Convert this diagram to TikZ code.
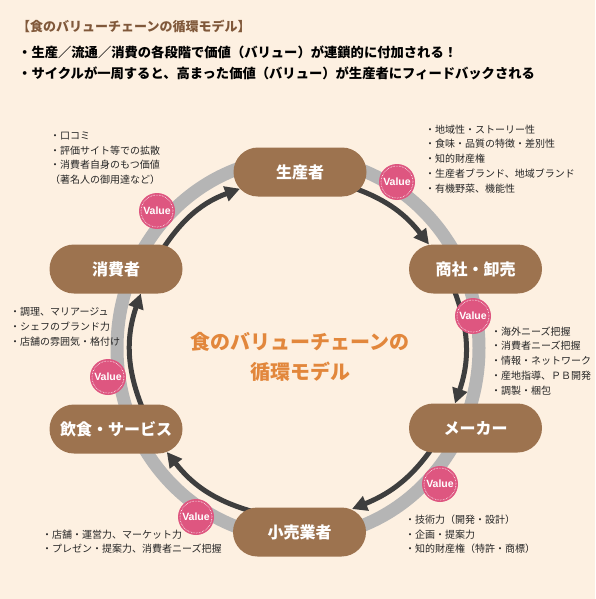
\documentclass[tikz,border=0pt]{standalone}
\usepackage{fontspec}
\setmainfont{Noto Sans CJK JP}
\newfontfamily\valuefont{Liberation Sans}
\usetikzlibrary{arrows.meta}
\definecolor{peach}{RGB}{253,240,225}
\definecolor{pillbrown}{RGB}{157,115,79}
\definecolor{titlebrown}{RGB}{128,88,58}
\definecolor{midorange}{RGB}{226,135,60}
\definecolor{ringgray}{RGB}{181,181,181}
\definecolor{flowgray}{RGB}{62,62,62}
\definecolor{valpink}{RGB}{222,86,128}
\pgfdeclarelayer{bg}
\pgfdeclarelayer{ring}
\pgfsetlayers{bg,ring,main}

\begin{document}
\begin{tikzpicture}[x=1pt,y=1pt,
  pill/.style={fill=pillbrown, rounded corners=24.5pt, minimum width=133pt, minimum height=49pt,
    inner sep=0pt, text=white, font=\fontsize{16}{16}\selectfont\bfseries},
  val/.style={circle, fill=valpink, minimum size=36pt, inner sep=0pt, text=white,
    font=\valuefont\fontsize{10.5}{10.5}\selectfont\bfseries,
    path picture={\draw[white, densely dotted, line width=.6pt] (path picture bounding box.center) circle (16pt);}},
  note/.style={anchor=north west, align=left, inner sep=0pt, text=black!85, font=\fontsize{10}{14.8}\selectfont},
  flow/.style={draw=flowgray, line width=5pt, -{Triangle[length=15pt, width=15pt]}}]
\def\cx{298}
\def\cy{-348}
\def\rx{181}
\def\ry{190}
\begin{pgfonlayer}{bg}
\fill[peach] (0,0) rectangle (595,-599);
\end{pgfonlayer}
\useasboundingbox (0,0) rectangle (595,-599);

% heading
\node[anchor=west, inner sep=0pt, text=titlebrown, font=\fontsize{13}{13}\selectfont\bfseries, name=head] at (17,-26) {【食のバリューチェーンの循環モデル】};
\node[anchor=north west, align=left, inner sep=0pt, font=\fontsize{13.3}{21}\selectfont\bfseries, name=lead] at (18,-45.5)
  {・生産／流通／消費の各段階で価値（バリュー）が連鎖的に付加される！\\
   ・サイクルが一周すると、高まった価値（バリュー）が生産者にフィードバックされる};
\node[align=center, inner sep=0pt, text=midorange, font=\fontsize{20}{30}\selectfont\bfseries, name=mid] at (300,-357)
  {食のバリューチェーンの\\循環モデル};

% stages
\node[pill, name=c1] at (300,-172) {生産者};
\node[pill, name=c2] at (475.5,-269) {商社・卸売};
\node[pill, name=c3] at (475.5,-428) {メーカー};
\node[pill, name=c4] at (299.5,-532) {小売業者};
\node[pill, name=c5] at (116,-429) {飲食・サービス};
\node[pill, name=c6] at (116,-269) {消費者};

\begin{pgfonlayer}{ring}
\draw[ringgray, line width=13pt] (\cx,\cy) ellipse [x radius=\rx, y radius=\ry];
\draw[flow] ([shift={(54.8,-16.3)}]c1.center) to [out=-20,in=128] ([shift={(-46.5,24.5)}]c2.center);
\draw[flow] ([shift={(-23.6,-15.3)}]c2.center) to [out=-68,in=71] ([shift={(-20.5,24.5)}]c3.center);
\draw[flow] ([shift={(-38.3,-12.6)}]c3.center) to [out=-123,in=22] ([shift={(52.5,23)}]c4.center);
\draw[flow] ([shift={(-47.3,20.6)}]c4.center) to [out=164,in=-52] ([shift={(50.8,-23)}]c5.center);
\draw[flow] ([shift={(31.6,9.2)}]c5.center) to [out=115,in=-109] ([shift={(24.8,-24.5)}]c6.center);
\draw[flow] ([shift={(38.2,6)}]c6.center) to [out=60,in=-160] ([shift={(-60,-16.7)}]c1.center);
\end{pgfonlayer}

% value badges
\node[val, name=v1] at (397,-182) {Value};
\node[val, name=v2] at (473,-316) {Value};
\node[val, name=v3] at (440,-484) {Value};
\node[val, name=v4] at (196,-517) {Value};
\node[val, name=v5] at (108,-377) {Value};
\node[val, name=v6] at (157,-211) {Value};

% notes
\node[note, name=t1] at (425,-124.5) {・地域性・ストーリー性\\・食味・品質の特徴・差別性\\・知的財産権\\・生産者ブランド、地域ブランド\\・有機野菜、機能性};
\node[note, name=t2] at (491,-326.5) {・海外ニーズ把握\\・消費者ニーズ把握\\・情報・ネットワーク\\・産地指導、ＰＢ開発\\・調製・梱包};
\node[note, name=t3] at (405,-514.5) {・技術力（開発・設計）\\・企画・提案力\\・知的財産権（特許・商標）};
\node[note, name=t4] at (42,-529.5) {・店舗・運営力、マーケット力\\・プレゼン・提案力、消費者ニーズ把握};
\node[note, name=t5] at (10,-307.5) {・調理、マリアージュ\\・シェフのブランド力\\・店舗の雰囲気・格付け};
\node[note, name=t6] at (50,-131.5) {・口コミ\\・評価サイト等での拡散\\・消費者自身のもつ価値\\（著名人の御用達など）};
\end{tikzpicture}
\end{document}
